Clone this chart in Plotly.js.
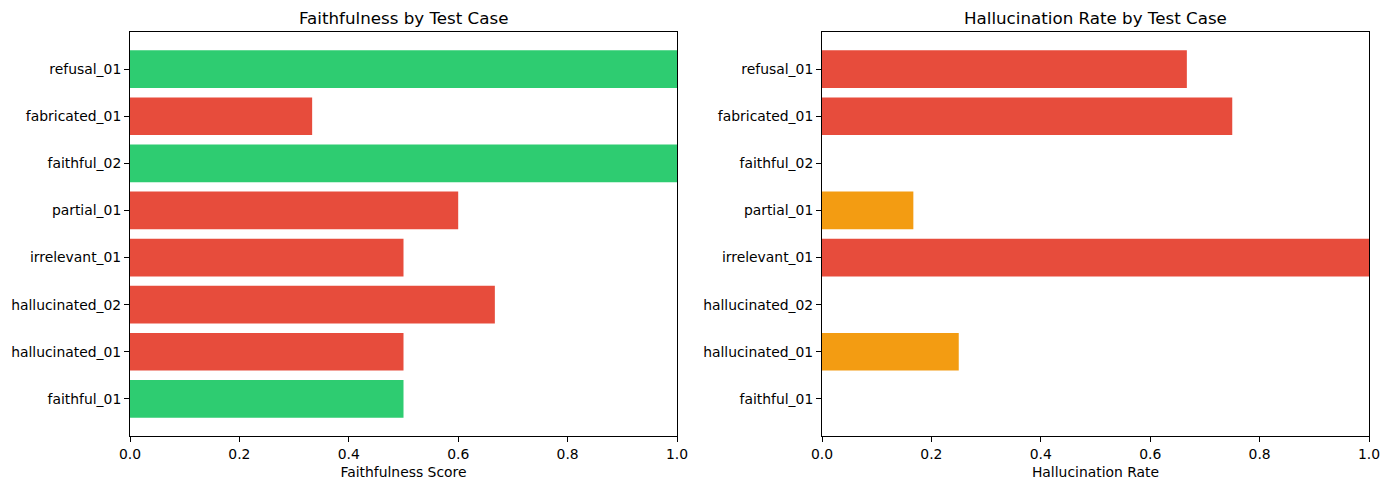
<!DOCTYPE html>
<html>
<head>
<meta charset="utf-8">
<script src="https://cdn.plot.ly/plotly-3.0.1.min.js"></script>
<style>
  html, body { margin: 0; padding: 0; background: #ffffff; }
  #chart { width: 1390px; height: 490px; }
</style>
</head>
<body>
<div id="chart"></div>
<script>
// Test cases, bottom to top
const testCases = ["faithful_01", "hallucinated_01", "hallucinated_02", "irrelevant_01",
                   "partial_01", "faithful_02", "fabricated_01", "refusal_01"];
const faithfulness = [0.5, 0.5, 0.667, 0.5, 0.6, 1.0, 0.333, 1.0];
const hallucinationRate = [0.0, 0.25, 0.0, 1.0, 0.167, 0.0, 0.75, 0.667];
const passedFaithfulness = [true, false, false, false, false, true, false, true];
const xTickVals = [0, 0.2, 0.4, 0.6, 0.8, 1.0];
const xTickText = ["0.0", "0.2", "0.4", "0.6", "0.8", "1.0"];

const GREEN = "#2ecc71", RED = "#e74c3c", ORANGE = "#f39c12";
const faithColors = passedFaithfulness.map(p => p ? GREEN : RED);
const hallColors = hallucinationRate.map(v => v > 0.5 ? RED : (v > 0 ? ORANGE : GREEN));

const FONT = "DejaVu Sans, sans-serif";
const W = 1390, H = 490;

const traces = [
  { type: "bar", orientation: "h", x: faithfulness, y: testCases, xaxis: "x", yaxis: "y",
    width: 0.8, marker: { color: faithColors, line: { width: 0 } }, showlegend: false, hoverinfo: "x+y" },
  { type: "bar", orientation: "h", x: hallucinationRate, y: testCases, xaxis: "x2", yaxis: "y2",
    width: 0.8, marker: { color: hallColors, line: { width: 0 } }, showlegend: false, hoverinfo: "x+y" }
];

function xAxis(domain, anchor, title) {
  return {
    domain: domain, anchor: anchor, range: [0, 1], fixedrange: true,
    tickmode: "array", tickvals: xTickVals, ticktext: xTickText,
    ticks: "outside", ticklen: 5, tickwidth: 1, tickcolor: "#000",
    showline: true, linecolor: "#000", linewidth: 1, mirror: true,
    showgrid: false, zeroline: false,
    tickfont: { family: FONT, size: 13.9, color: "#000" },
    title: { text: title, font: { family: FONT, size: 13.9, color: "#000" }, standoff: 6 }
  };
}
function yAxis(domain, anchor) {
  return {
    domain: domain, anchor: anchor, type: "category",
    categoryorder: "array", categoryarray: testCases,
    range: [-0.79, 7.79], fixedrange: true,
    ticks: "outside", ticklen: 5, tickwidth: 1, tickcolor: "#000",
    showline: true, linecolor: "#000", linewidth: 1, mirror: true,
    showgrid: false, zeroline: false,
    tickfont: { family: FONT, size: 13.9, color: "#000" }
  };
}

const yDom = [1 - 436 / H, 1 - 32 / H];
const layout = {
  width: W, height: H,
  margin: { l: 0, r: 0, t: 0, b: 0 },
  paper_bgcolor: "#ffffff", plot_bgcolor: "#ffffff",
  xaxis: xAxis([130 / W, 677 / W], "y", "Faithfulness Score"),
  yaxis: yAxis(yDom, "x"),
  xaxis2: xAxis([822 / W, 1369 / W], "y2", "Hallucination Rate"),
  yaxis2: yAxis(yDom, "x2"),
  annotations: [
    { text: "Faithfulness by Test Case", xref: "paper", yref: "paper",
      x: (130 + 677) / 2 / W, y: 1 - 18 / H, xanchor: "center", yanchor: "middle",
      showarrow: false, font: { family: FONT, size: 16.7, color: "#000" } },
    { text: "Hallucination Rate by Test Case", xref: "paper", yref: "paper",
      x: (822 + 1369) / 2 / W, y: 1 - 18 / H, xanchor: "center", yanchor: "middle",
      showarrow: false, font: { family: FONT, size: 16.7, color: "#000" } }
  ]
};

Plotly.newPlot("chart", traces, layout, { displayModeBar: false, staticPlot: true });
</script>
</body>
</html>
